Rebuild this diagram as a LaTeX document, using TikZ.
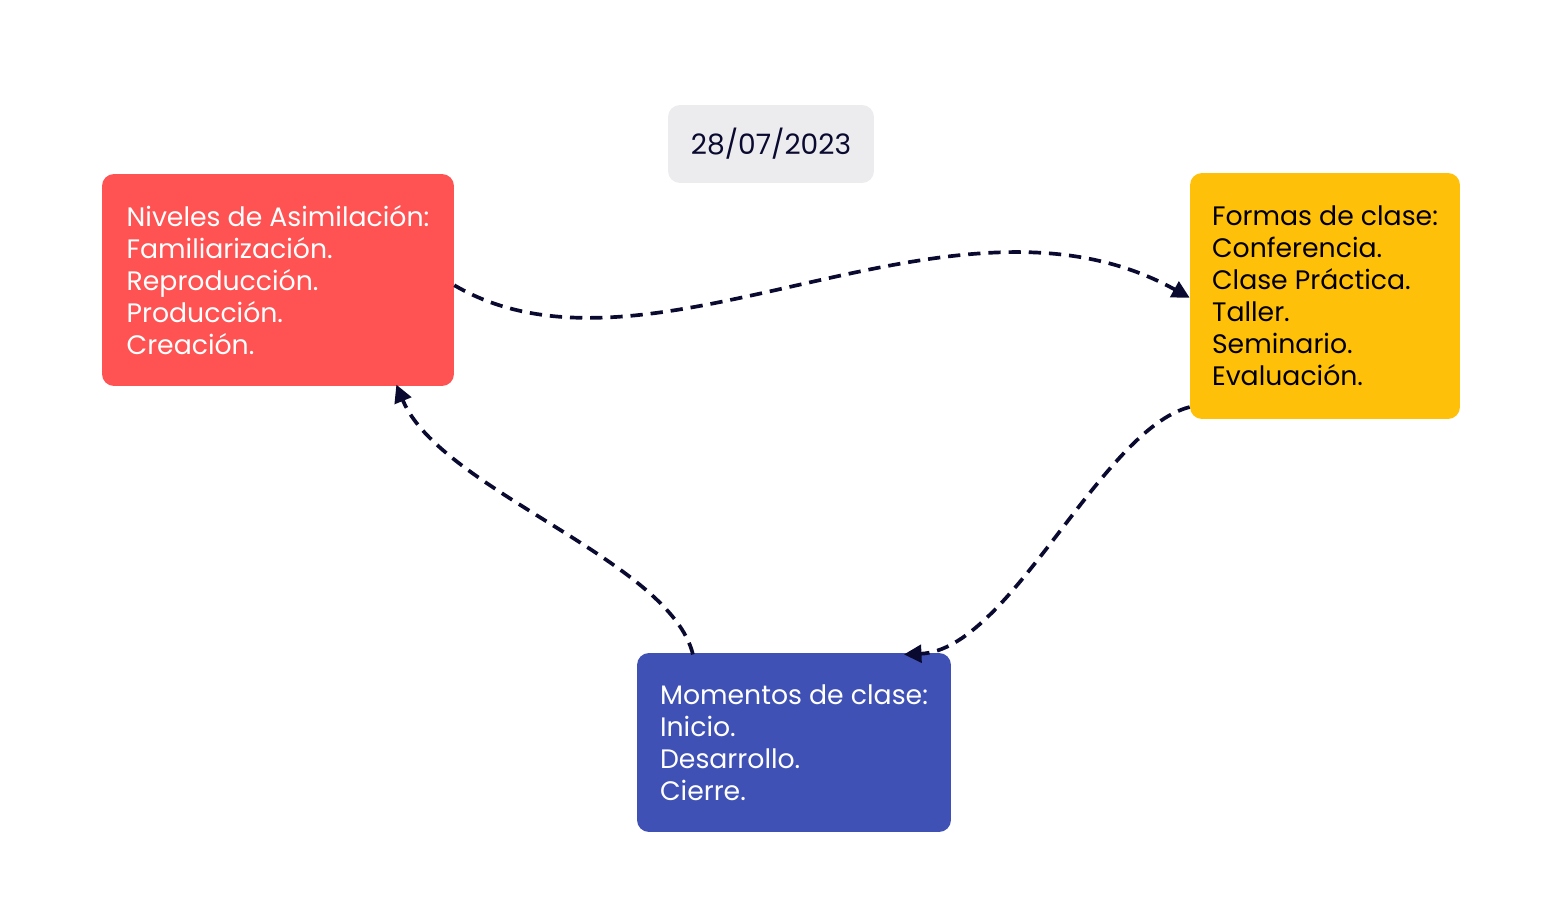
\documentclass[tikz,border=0pt]{standalone}
\usepackage{fontspec}
\setmainfont{Poppins}
\usetikzlibrary{arrows.meta}
\definecolor{levelred}{HTML}{FF5353}
\definecolor{formyellow}{HTML}{FFC00A}
\definecolor{momentblue}{HTML}{3F51B5}
\definecolor{dategray}{HTML}{ECEBEE}
\definecolor{inkblue}{HTML}{0A0A30}
\tikzstyle{card} = [rectangle, rounded corners=0.24cm, align=left, font=\fontsize{15.2}{18.2}\selectfont]
\tikzstyle{datebox} = [rectangle, rounded corners=0.24cm, minimum width=4.12cm, minimum height=1.56cm, fill=dategray, text=inkblue, font=\fontsize{16}{18.2}\selectfont]
\tikzstyle{arrow} = [draw=inkblue, line width=2.1pt, dash pattern=on 7pt off 4.5pt, -{Triangle[length=10pt,width=10pt]}]

\begin{document}
\begin{tikzpicture}[x=0.02cm, y=-0.02cm]
    \useasboundingbox (0,0) rectangle (1561,903);
    % Place nodes
    \node (date) [datebox] at (771,144) {28/07/2023};
    \node (levels) [card, fill=levelred, text=white, minimum width=7.04cm, minimum height=4.24cm] at (278,280)
        {Niveles de Asimilación:\\Familiarización.\\Reproducción.\\Producción.\\Creación.};
    \node (forms) [card, fill=formyellow, text=black, minimum width=5.4cm, minimum height=4.92cm] at (1325,296)
        {Formas de clase:\\Conferencia.\\Clase Práctica.\\Taller.\\Seminario.\\Evaluación.};
    \node (moments) [card, fill=momentblue, text=white, minimum width=6.28cm, minimum height=3.58cm] at (794,742.5)
        {Momentos de clase:\\Inicio.\\Desarrollo.\\Cierre.};

    % Connect nodes with arrows
    \draw [arrow] ([yshift=-3pt]levels.east) .. controls (650,400) and (950,165) .. ([yshift=-1pt]forms.west);
    \draw [arrow] ([yshift=7pt]forms.south west) .. controls (1100,430) and (1010,650) .. ([xshift=-27pt,yshift=-1pt]moments.north east);
    \draw [arrow] ([xshift=32pt,yshift=-1pt]moments.north west) .. controls (670,560) and (440,490) .. ([xshift=-33pt,yshift=1pt]levels.south east);
\end{tikzpicture}
\end{document}
